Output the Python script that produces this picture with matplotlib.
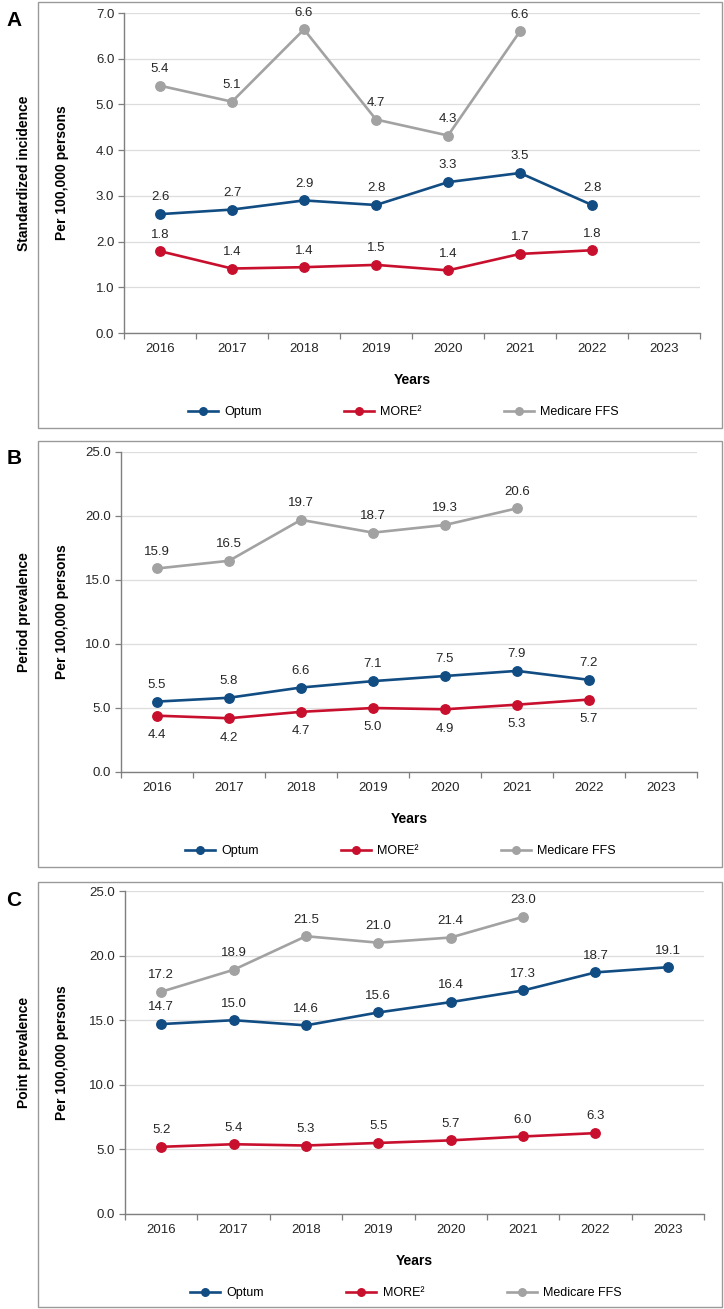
"""
Three-panel trend figure: incidence, period prevalence, point prevalence
per 100,000 persons for Optum, MORE2 and Medicare FFS, 2016-2023.
"""

import matplotlib
matplotlib.use("Agg")
import matplotlib.pyplot as plt
from matplotlib.patches import Rectangle

plt.rcParams["font.family"] = ["Liberation Sans", "DejaVu Sans"]

# ------------------------------------------------------------------
# data
# ------------------------------------------------------------------
YEARS = ["2016", "2017", "2018", "2019", "2020", "2021", "2022", "2023"]
SERIES_NAMES = ["Optum", "MORE\u00b2", "Medicare FFS"]

# A - standardized incidence
incidence_optum = [2.6, 2.7, 2.9, 2.8, 3.3, 3.5, 2.8]
incidence_more2 = [1.79, 1.41, 1.44, 1.49, 1.37, 1.73, 1.81]
incidence_medicare = [5.41, 5.06, 6.64, 4.67, 4.32, 6.60]

# B - period prevalence
period_optum = [5.5, 5.8, 6.6, 7.1, 7.5, 7.9, 7.2]
period_more2 = [4.4, 4.2, 4.7, 5.0, 4.9, 5.26, 5.66]
period_medicare = [15.9, 16.5, 19.7, 18.7, 19.3, 20.6]

# C - point prevalence
point_optum = [14.7, 15.0, 14.6, 15.6, 16.4, 17.3, 18.7, 19.1]
point_more2 = [5.2, 5.4, 5.3, 5.5, 5.7, 6.0, 6.26]
point_medicare = [17.2, 18.9, 21.5, 21.0, 21.4, 23.0]

COLORS = ["#114C83", "#C8102E", "#A2A2A2"]
AXIS_GREY = "#7F7F7F"
TEXT = "#262626"

W, H = 724, 1309


def fx(px):
    return px / W


def fy(py):
    return 1 - py / H


def draw_panel(fig, letter, box, axes_px, series, ymax, ystep, ylabel, below=()):
    bx0, by0, bx1, by1 = box
    fig.patches.append(Rectangle((fx(bx0), fy(by1)), fx(bx1 - bx0), (by1 - by0) / H,
                                 transform=fig.transFigure, fill=False,
                                 edgecolor="#9A9A9A", linewidth=1.0))
    fig.text(fx(14), fy(by0 + 18), letter, fontsize=15, fontweight="bold",
             ha="center", va="center")

    left, right, top, bottom = axes_px
    ax = fig.add_axes([fx(left), fy(bottom), fx(right - left), (bottom - top) / H])
    h_axes = bottom - top

    lines = []
    for i, (vals, color) in enumerate(zip(series, COLORS)):
        xs = list(range(len(vals)))
        ln, = ax.plot(xs, vals, color=color, linewidth=1.9, marker="o",
                      markersize=6.8, label=SERIES_NAMES[i], zorder=3 + (2 - i))
        lines.append(ln)
        for x, v in zip(xs, vals):
            dy = -14 if i in below else 12
            ax.annotate(f"{v:.1f}", (x, v), xytext=(0, dy), textcoords="offset points",
                        ha="center", va="center", fontsize=9.5, color=TEXT)

    ax.set_xlim(-0.5, len(YEARS) - 0.5)
    ax.set_ylim(0, ymax)
    yt = [k * ystep for k in range(int(round(ymax / ystep)) + 1)]
    ax.set_yticks(yt)
    ax.set_yticklabels([f"{t:.1f}" for t in yt])
    ax.set_xticks(range(len(YEARS)))
    ax.set_xticklabels(YEARS)
    ax.set_xticks([k - 0.5 for k in range(len(YEARS) + 1)], minor=True)
    ax.tick_params(axis="x", which="major", length=0, pad=7, labelsize=9.5, labelcolor=TEXT)
    ax.tick_params(axis="x", which="minor", length=4, color=AXIS_GREY, width=0.9)
    ax.tick_params(axis="y", length=4, color=AXIS_GREY, width=0.9, pad=3,
                   labelsize=9.5, labelcolor=TEXT)

    ax.grid(axis="y", color="#DDDDDD", linewidth=0.9)
    ax.set_axisbelow(True)
    for s in ["top", "right"]:
        ax.spines[s].set_visible(False)
    for s in ["left", "bottom"]:
        ax.spines[s].set_color(AXIS_GREY)
        ax.spines[s].set_linewidth(1.0)

    ax.text(0.5, -47 / h_axes, "Years", transform=ax.transAxes, ha="center",
            va="center", fontsize=10, fontweight="bold")

    ax.legend(handles=lines, loc="center", bbox_to_anchor=(0.485, -79 / h_axes), ncol=3,
              frameon=False, fontsize=9, handlelength=2.4, columnspacing=6.6,
              handletextpad=0.5, numpoints=1, markerscale=0.8)

    ymid = fy((top + bottom) / 2)
    fig.text(fx(24), ymid, ylabel, rotation=90, ha="center", va="center",
             fontsize=10, fontweight="bold")
    fig.text(fx(62), ymid, "Per 100,000 persons", rotation=90, ha="center",
             va="center", fontsize=10, fontweight="bold")
    return ax


fig = plt.figure(figsize=(W / 100, H / 100), dpi=100)

draw_panel(fig, "A", (38, 2, 722, 428), (124, 700, 13, 333),
           [incidence_optum, incidence_more2, incidence_medicare],
           7.0, 1.0, "Standardized incidence")
draw_panel(fig, "B", (38, 441, 722, 867), (121, 697, 452, 772),
           [period_optum, period_more2, period_medicare],
           25.0, 5.0, "Period prevalence", below=(1,))
draw_panel(fig, "C", (38, 882, 722, 1307), (125, 704, 891, 1214),
           [point_optum, point_more2, point_medicare],
           25.0, 5.0, "Point prevalence")

plt.savefig("out.png", dpi=100)
print("Saved: out.png")
